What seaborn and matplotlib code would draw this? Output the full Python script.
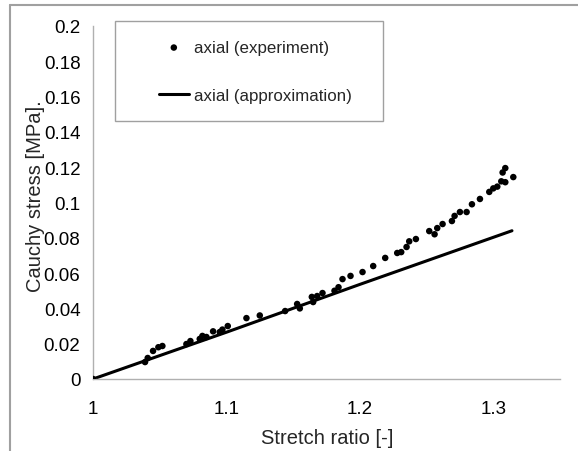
import numpy as np
import pandas as pd
import matplotlib
matplotlib.use("Agg")
import matplotlib.pyplot as plt
from matplotlib.lines import Line2D
from matplotlib.patches import Rectangle
import seaborn as sns

# experiment points
stretch_exp = [1.0, 1.039, 1.041, 1.045, 1.049, 1.052, 1.070, 1.073, 1.080, 1.082,
               1.085, 1.090, 1.095, 1.097, 1.101, 1.115, 1.125, 1.144, 1.153, 1.155,
               1.164, 1.165, 1.168, 1.172, 1.181, 1.184, 1.187, 1.193, 1.202, 1.210,
               1.219, 1.228, 1.231, 1.235, 1.237, 1.242, 1.252, 1.256, 1.258, 1.262,
               1.269, 1.271, 1.275, 1.280, 1.284, 1.290, 1.297, 1.300, 1.303, 1.306,
               1.307, 1.309, 1.309, 1.315]
stress_exp = [0.0, 0.0096, 0.0119, 0.0159, 0.018, 0.0187, 0.0198, 0.0215, 0.0227, 0.0244,
              0.0238, 0.027, 0.0266, 0.028, 0.030, 0.0345, 0.036, 0.0385, 0.0425, 0.040,
              0.0465, 0.0436, 0.047, 0.0487, 0.050, 0.052, 0.0566, 0.0584, 0.0606, 0.064,
              0.0686, 0.0714, 0.0719, 0.0748, 0.078, 0.0793, 0.0838, 0.082, 0.0855, 0.0878,
              0.0895, 0.0924, 0.0946, 0.0946, 0.099, 0.102, 0.106, 0.108, 0.109, 0.112,
              0.117, 0.1195, 0.1115, 0.1144]

# approximation curve
stretch_fit = [1.0, 1.1, 1.2, 1.314]
stress_fit = [0.0, 0.0265, 0.0536, 0.084]

x_ticks = [1.0, 1.1, 1.2, 1.3]
x_labels = ["1", "1.1", "1.2", "1.3"]
y_ticks = [0, 0.02, 0.04, 0.06, 0.08, 0.1, 0.12, 0.14, 0.16, 0.18, 0.2]
y_labels = ["0", "0.02", "0.04", "0.06", "0.08", "0.1", "0.12", "0.14", "0.16", "0.18", "0.2"]

sns.set_style("white")
plt.rcParams["font.family"] = ["Liberation Sans", "DejaVu Sans"]

W, H = 578, 452
fig = plt.figure(figsize=(W / 100, H / 100), dpi=100)
ax = fig.add_axes([93 / W, 1 - 380 / H, (560 - 93) / W, (380 - 27) / H])

exp = pd.DataFrame({"x": stretch_exp, "y": stress_exp})
fit = pd.DataFrame({"x": stretch_fit, "y": stress_fit})

sns.scatterplot(data=exp, x="x", y="y", ax=ax, color="black", s=22,
                edgecolor="none", label="axial (experiment)", zorder=3)
sns.lineplot(data=fit, x="x", y="y", ax=ax, color="black", linewidth=2.2,
             label="axial (approximation)", zorder=2)

ax.set_xlim(1.0, 1.35)
ax.set_ylim(0, 0.2)
ax.set_xticks(x_ticks)
ax.set_xticklabels(x_labels)
ax.set_yticks(y_ticks)
ax.set_yticklabels(y_labels)
ax.set_xlabel("Stretch ratio [-]", fontsize=14.5, va="top")
ax.set_ylabel("Cauchy stress [MPa].", fontsize=14.5)
ax.xaxis.set_label_coords(0.501, -0.14)
ax.yaxis.set_label_coords(-0.103, 0.52)

for side in ["top", "right"]:
    ax.spines[side].set_visible(False)
for side in ["left", "bottom"]:
    ax.spines[side].set_color("#b0b0b0")
    ax.spines[side].set_linewidth(1.0)
ax.tick_params(axis="both", which="major", labelsize=13.5, colors="#b0b0b0",
               labelcolor="black", length=5, width=1, direction="out")
ax.tick_params(axis="y", pad=4)
ax.tick_params(axis="x", pad=10)

leg = ax.legend(loc="upper left", bbox_to_anchor=(159 / W, 1 - 41 / H),
                bbox_transform=fig.transFigure, fontsize=12.2, frameon=False,
                borderpad=0, labelspacing=1.95, handlelength=1.75,
                handletextpad=0.3, borderaxespad=0)

# legend box drawn separately (padding is uneven in the original)
fig.add_artist(Rectangle((115 / W, 1 - 122 / H), (383 - 115) / W, 100 / H,
                         transform=fig.transFigure, fill=False,
                         edgecolor="#a0a0a0", linewidth=1.0))

# outer chart border (top and left visible)
fig.add_artist(Line2D([10 / W, 1.0], [1 - 6 / H, 1 - 6 / H],
                      transform=fig.transFigure, color="#a0a0a0", linewidth=1.5))
fig.add_artist(Line2D([10 / W, 10 / W], [0, 1 - 6 / H],
                      transform=fig.transFigure, color="#a0a0a0", linewidth=1.5))

fig.savefig("out.png", dpi=100)
